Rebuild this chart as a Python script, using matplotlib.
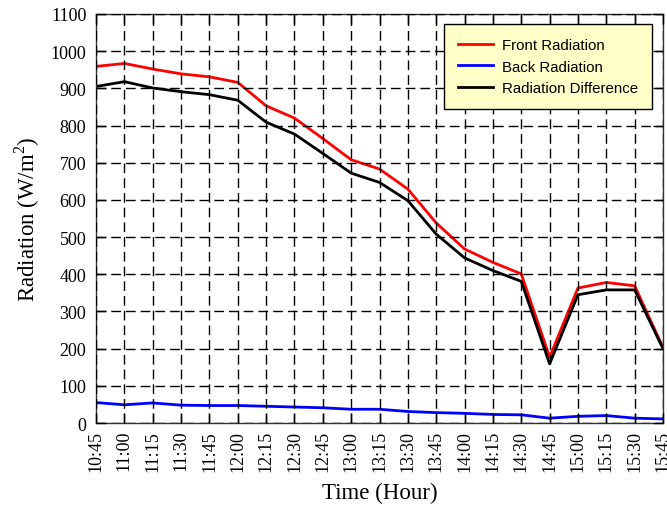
import matplotlib
matplotlib.use("Agg")
import matplotlib.pyplot as plt
import numpy as np

times = ["10:45", "11:00", "11:15", "11:30", "11:45", "12:00", "12:15", "12:30",
         "12:45", "13:00", "13:15", "13:30", "13:45", "14:00", "14:15", "14:30",
         "14:45", "15:00", "15:15", "15:30", "15:45"]
front = [959, 967, 952, 939, 931, 916, 853, 820, 765, 708, 683, 629, 538, 468,
         432, 401, 177, 363, 378, 369, 203]
back = [55, 49, 54, 48, 47, 47, 45, 43, 41, 37, 37, 31, 28, 26, 23, 22, 13, 18,
        20, 13, 11]
diff = [905, 918, 901, 891, 883, 868, 809, 777, 725, 672, 647, 598, 508, 444,
        410, 381, 159, 345, 358, 358, 200]
yticks = list(range(0, 1101, 100))

plt.rcParams['font.family'] = ['Liberation Serif', 'DejaVu Serif']
plt.rcParams['mathtext.fontset'] = 'custom'
plt.rcParams['mathtext.rm'] = 'Liberation Serif'

fig = plt.figure(figsize=(6.67, 5.10), dpi=100)
ax = fig.add_axes([0.144, 0.1686, 0.850, 0.802])

x = np.arange(len(times))
ax.plot(x, front, color='#ff0000', lw=2.0, label='Front Radiation')
ax.plot(x, back, color='#0000ff', lw=2.0, label='Back Radiation')
ax.plot(x, diff, color='#000000', lw=2.0, label='Radiation Difference')

ax.set_xlim(0, len(times) - 1)
ax.set_ylim(0, 1100)
ax.set_xticks(x)
ax.set_xticklabels(times, rotation=90, fontsize=13)
ax.set_yticks(yticks)
ax.set_yticklabels([str(v) for v in yticks], fontsize=13)
ax.tick_params(direction='in', length=7, width=1, top=True, right=True)
ax.tick_params(axis='x', pad=5)
ax.tick_params(axis='y', pad=7)

ax.grid(True, color='black', lw=1.0, linestyle=(0, (7, 3.6)))
ax.set_axisbelow(False)
for s in ax.spines.values():
    s.set_linewidth(1.0)
    s.set_color('#333333')

ax.set_xlabel('Time (Hour)', fontsize=16.5, labelpad=8)
ax.set_ylabel('Radiation (W/m$^\\mathrm{2}$)', fontsize=16.5, labelpad=6)

leg = ax.legend(loc='upper right', bbox_to_anchor=(0.981, 0.976), borderaxespad=0,
                fancybox=False, framealpha=1, facecolor='#ffffc8', edgecolor='black',
                prop={'family': 'Liberation Sans', 'size': 10.8},
                handlelength=2.3, handletextpad=0.6, borderpad=0.95,
                labelspacing=0.5)
leg.get_frame().set_linewidth(1.0)

fig.savefig('out.png', dpi=100)
